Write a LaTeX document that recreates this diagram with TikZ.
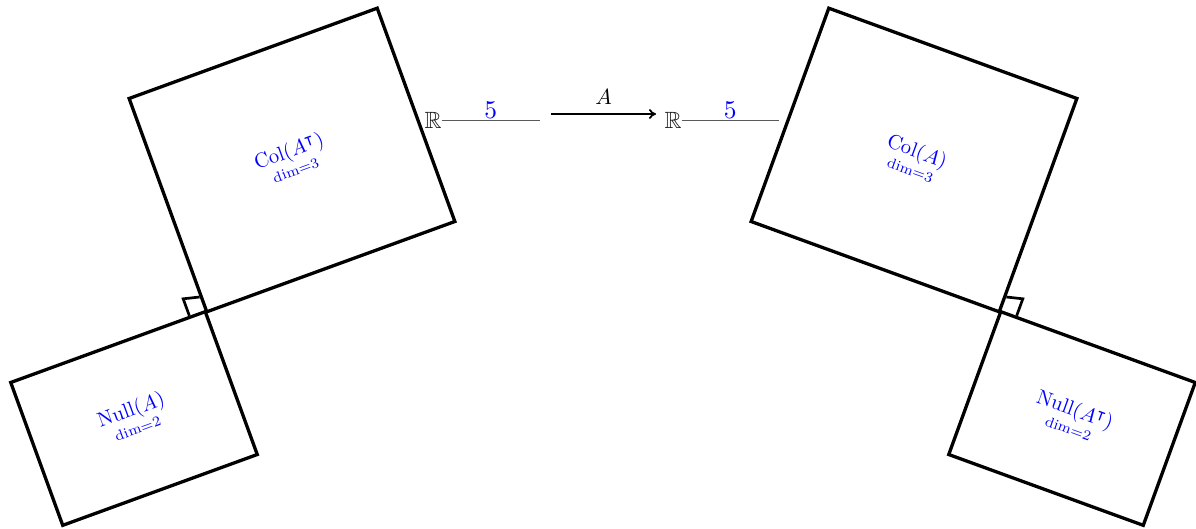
\documentclass[tikz,border=0pt]{standalone}
\usepackage{amsmath,amssymb}
\usetikzlibrary{calc,arrows.meta}
\begin{document}
\begin{tikzpicture}[x=1pt,y=-1pt,
  space/.style={draw, line width=3.3pt, rotate=#1, align=center, text=blue, inner sep=0pt},
  big/.style={minimum width=264pt, minimum height=227pt},
  small/.style={minimum width=207pt, minimum height=152pt},
  perpmark/.style={line width=2.7pt},
  reals/.style={inner sep=0pt, text=black!90},
  rline/.style={draw=black!65, line width=0.8pt},
  dimlab/.style={text=blue, above, inner sep=0.8pt},
  maptip/.style={-{To[length=7pt,width=10pt]}, line width=1.8pt}]
\useasboundingbox (0,0) rectangle (1196,529);
\newcommand{\spacelab}[2]{\scalebox{2.05}{$\underset{\text{dim}=#2}{\text{#1}}$}}
\newcommand{\bigsym}[2][2.35]{\scalebox{#1}{$#2$}}
% left side
\node[space=20, big] (colL) at (292,160) {\spacelab{Col$(A^{\intercal})$}{3}};
\node[space=20, small] (nullL) at (134,418.5) {\spacelab{Null$(A)$}{2}};
% right side
\node[space=-20, big] (colR) at (914,160) {\spacelab{Col$(A)$}{3}};
\node[space=-20, small] (nullR) at (1072,418.5) {\spacelab{Null$(A^{\intercal})$}{2}};
% right-angle marks
\coordinate (l1) at ($(colL.south west)!18pt!(colL.north west)$);
\coordinate (l3) at ($(nullL.north east)!18pt!(nullL.north west)$);
\draw[perpmark] (l1) -- ($(l1)+(l3)-(colL.south west)$) -- (l3);
\coordinate (r1) at ($(colR.south east)!18pt!(colR.north east)$);
\coordinate (r3) at ($(nullR.north west)!18pt!(nullR.north east)$);
\draw[perpmark] (r1) -- ($(r1)+(r3)-(colR.south east)$) -- (r3);
% R^5 labels and the map
\node[reals] (RL) at (433,120) {\bigsym{\mathbb{R}}};
\coordinate (RLend) at (540,120);
\draw[rline] (RL.east) -- node[dimlab] {\bigsym[2.55]{5}} (RLend);
\node[reals] (RR) at (673,120) {\bigsym{\mathbb{R}}};
\coordinate (RRend) at (779,120);
\draw[rline] (RR.east) -- node[dimlab] {\bigsym[2.55]{5}} (RRend);
\coordinate (a1) at (551,114);
\coordinate (a2) at (656,114);
\draw[maptip] (a1) -- node[above=8.5pt, inner sep=0pt] {\scalebox{2.2}{$A$}} (a2);
\end{tikzpicture}
\end{document}
